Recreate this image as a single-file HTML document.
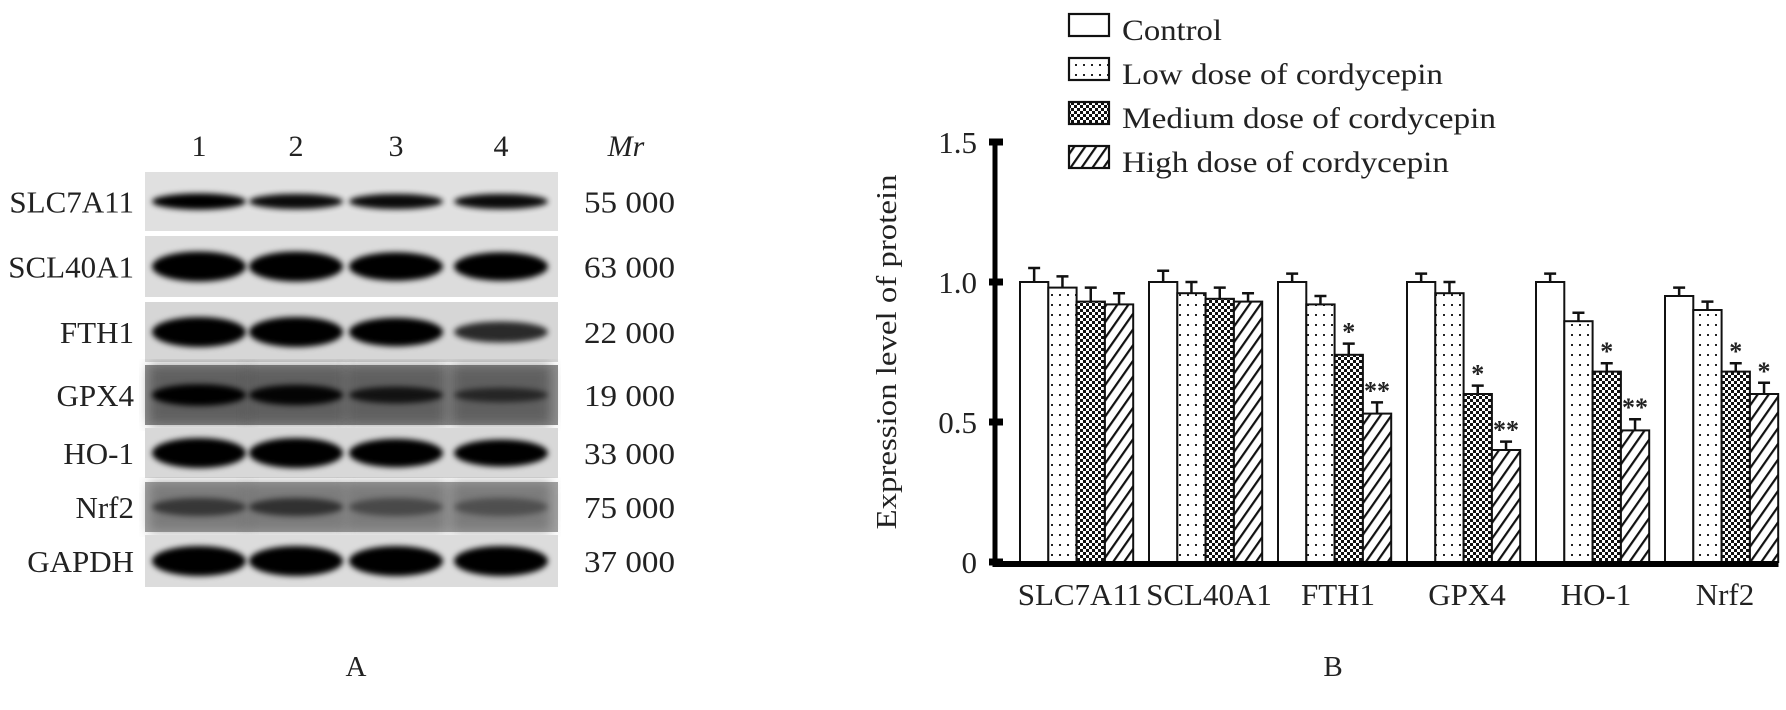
<!DOCTYPE html>
<html><head><meta charset="utf-8"><style>
html,body{margin:0;padding:0;background:#fff;}
svg{display:block;}
text{font-family:"Liberation Serif",serif;fill:#222;}
</style></head><body>
<svg id="fig" width="1786" height="710" viewBox="0 0 1786 710">
<defs>
<pattern id="pDots" width="8" height="10" patternUnits="userSpaceOnUse"><rect width="8" height="10" fill="#fff"/><rect x="3" y="4" width="2" height="2" fill="#222"/></pattern>
<pattern id="pCheck" width="6" height="6" patternUnits="userSpaceOnUse"><rect width="6" height="6" fill="#111"/><rect x="0" y="0" width="3" height="3" fill="#fff"/><rect x="3" y="3" width="3" height="3" fill="#fff"/></pattern>
<pattern id="pHatch" width="9" height="9" patternUnits="userSpaceOnUse" patternTransform="rotate(35)"><rect width="9" height="9" fill="#fff"/><rect x="0" y="0" width="2.2" height="9" fill="#111"/></pattern>
<filter id="blur" x="-20%" y="-60%" width="140%" height="220%"><feGaussianBlur stdDeviation="3"/></filter>
<filter id="blur2"><feGaussianBlur stdDeviation="6"/></filter>
</defs>
<g id="blot"></g>
<g id="chart"></g>
</svg>
<script>
// ---- Bar chart data ----
const categories = ["SLC7A11","SCL40A1","FTH1","GPX4","HO-1","Nrf2"];
const seriesNames = ["Control","Low dose of cordycepin","Medium dose of cordycepin","High dose of cordycepin"];
const controlVals = [1.00,1.00,1.00,1.00,1.00,0.95];
const lowVals     = [0.98,0.96,0.92,0.96,0.86,0.90];
const mediumVals  = [0.93,0.94,0.74,0.60,0.68,0.68];
const highVals    = [0.92,0.93,0.53,0.40,0.47,0.60];
const controlErr  = [0.05,0.04,0.03,0.03,0.03,0.03];
const lowErr      = [0.04,0.04,0.03,0.04,0.03,0.03];
const mediumErr   = [0.05,0.04,0.04,0.03,0.03,0.03];
const highErr     = [0.04,0.03,0.04,0.03,0.04,0.04];
const mediumSig   = ["","","*","*","*","*"];
const highSig     = ["","","**","**","**","*"];
const yTicks = [0,0.5,1.0,1.5];
const yTickLabels = ["0","0.5","1.0","1.5"];

// ---- Blot data ----
const blotProteins = ["SLC7A11","SCL40A1","FTH1","GPX4","HO-1","Nrf2","GAPDH"];
const blotMr = ["55 000","63 000","22 000","19 000","33 000","75 000","37 000"];
const laneLabels = ["1","2","3","4"];
const bandIntensity = [
 [0.9,0.85,0.85,0.85],
 [1,1,0.95,0.95],
 [1,1,0.95,0.7],
 [0.9,0.85,0.7,0.5],
 [1,1,0.95,0.9],
 [0.45,0.5,0.3,0.25],
 [1,1,1,1]
];

const NS="http://www.w3.org/2000/svg";
function mk(tag,attrs,parent,txt){const e=document.createElementNS(NS,tag);for(const k in attrs)e.setAttribute(k,attrs[k]);if(txt!==undefined)e.textContent=txt;parent.appendChild(e);return e;}

// ---- Chart ----
const chart=document.getElementById('chart');
const X0=995, Y0=562, Y1=142;
function yScale(v){return Y0-(v-0)/(1.5-0)*(Y0-Y1);}
const groupStart=1020, groupStep=129, barW=28.3;
function xBar(g,s){return groupStart+g*groupStep+s*barW;}
const fills=["#fff","url(#pDots)","url(#pCheck)","url(#pHatch)"];
const vals=[controlVals,lowVals,mediumVals,highVals];
const errs=[controlErr,lowErr,mediumErr,highErr];
const sNames=["control","low","medium","high"];
for(let g=0;g<categories.length;g++){
  for(let s=0;s<4;s++){
    const v=vals[s][g], x=xBar(g,s), y=yScale(v);
    const e=mk('rect',{x:x,y:y,width:barW,height:Y0-y,fill:fills[s],stroke:'#111','stroke-width':2},chart);
    
    
    const ye=yScale(v+errs[s][g]), cx=x+barW/2;
    const eb=mk('path',{d:`M${cx},${y} V${ye} M${cx-6},${ye} H${cx+6}`,stroke:'#111','stroke-width':2.5,fill:'none'},chart);
    
    
    const sig = s===2?mediumSig[g]:(s===3?highSig[g]:"");
    if(sig){
      const t=mk('text',{x:cx,y:ye-3,'text-anchor':'middle','font-size':26,'font-weight':'bold','font-family':'Liberation Sans, sans-serif'},chart,sig);
      
      
    }
  }
  const lbl=mk('text',{x:groupStart+g*groupStep+60,y:605,'text-anchor':'middle','font-size':31},chart,categories[g]);
  
  
}
// axes
const ax=mk('rect',{x:X0-2.5,y:Y1,width:5,height:Y0-Y1+3},chart);


const bx=mk('rect',{x:X0-2.5,y:Y0-1,width:1781-X0,height:6},chart);


for(let i=0;i<yTicks.length;i++){
  const y=yScale(yTicks[i]);
  const tk=mk('rect',{x:989,y:y-3.5,width:14,height:7},chart);
  
  
  const tl=mk('text',{x:977,y:y+11,'text-anchor':'end','font-size':31,fill:'#333'},chart,yTickLabels[i]);
  
  
}
const yt=mk('text',{x:0,y:0,'text-anchor':'middle','font-size':29,transform:'translate(896,352) rotate(-90)',textLength:355,lengthAdjust:'spacingAndGlyphs'},chart,'Expression level of protein');


// legend
const legY=[13,57,101,145];
const legW=[100,321,374,327];
for(let i=0;i<4;i++){
  const r=mk('rect',{x:1069,y:legY[i]+1,width:40,height:22,fill:fills[i],stroke:'#111','stroke-width':2.2},chart);
  
  
  const t=mk('text',{x:1122,y:legY[i]+27,'font-size':30,textLength:legW[i],lengthAdjust:'spacingAndGlyphs'},chart,seriesNames[i]);
  
  
}
const bLab=mk('text',{x:1333,y:676,'text-anchor':'middle','font-size':29},chart,'B');



// ---- Blot ----
const blot=document.getElementById('blot');
const rowsY=[[172,231],[236,297],[302,362],[365,425],[428,478],[482,532],[535,587]];
const rowBg=["#e0e0e0","#dcdcdc","#d6d6d6","#8e8e8e","#d8d8d8","#a2a2a2","#dcdcdc"];
const laneX=[199,296,396,501];
for(let r=0;r<blotProteins.length;r++){
  const [a,b]=rowsY[r];
  const bg=mk('rect',{x:145,y:a,width:413,height:b-a,fill:rowBg[r]},blot);
  
  
  if(r===3||r===5){
    for(let l=0;l<4;l++){
      const d=mk('rect',{x:laneX[l]-50,y:a,width:100,height:b-a,fill:r===3?'#333':'#555',opacity:0.5,filter:'url(#blur2)'},blot);
      
      
    }
  }
  const cy=(a+b)/2;
  for(let l=0;l<4;l++){
    const k=bandIntensity[r][l];
    const ry = r===0?9:(r===3?12:15);
    const e=mk('ellipse',{cx:laneX[l],cy:cy,rx:47,ry:ry*Math.max(0.6,k),fill:'#050505',opacity:Math.min(1,k+0.1),filter:'url(#blur)'},blot);
    
    
  }
  const t=mk('text',{x:134,y:cy+11,'text-anchor':'end','font-size':31},blot,blotProteins[r]);
  
  
  const m=mk('text',{x:584,y:cy+11,'font-size':31,fill:'#333',textLength:91,lengthAdjust:'spacingAndGlyphs'},blot,blotMr[r]);
  
  
}
for(let l=0;l<4;l++){
  const t=mk('text',{x:laneX[l],y:156,'text-anchor':'middle','font-size':30,fill:'#333'},blot,laneLabels[l]);
  
  
}
const mr=mk('text',{x:626,y:156,'text-anchor':'middle','font-size':30,'font-style':'italic'},blot,'Mr');


const aLab=mk('text',{x:356,y:676,'text-anchor':'middle','font-size':29},blot,'A');


</script>
</body></html>
